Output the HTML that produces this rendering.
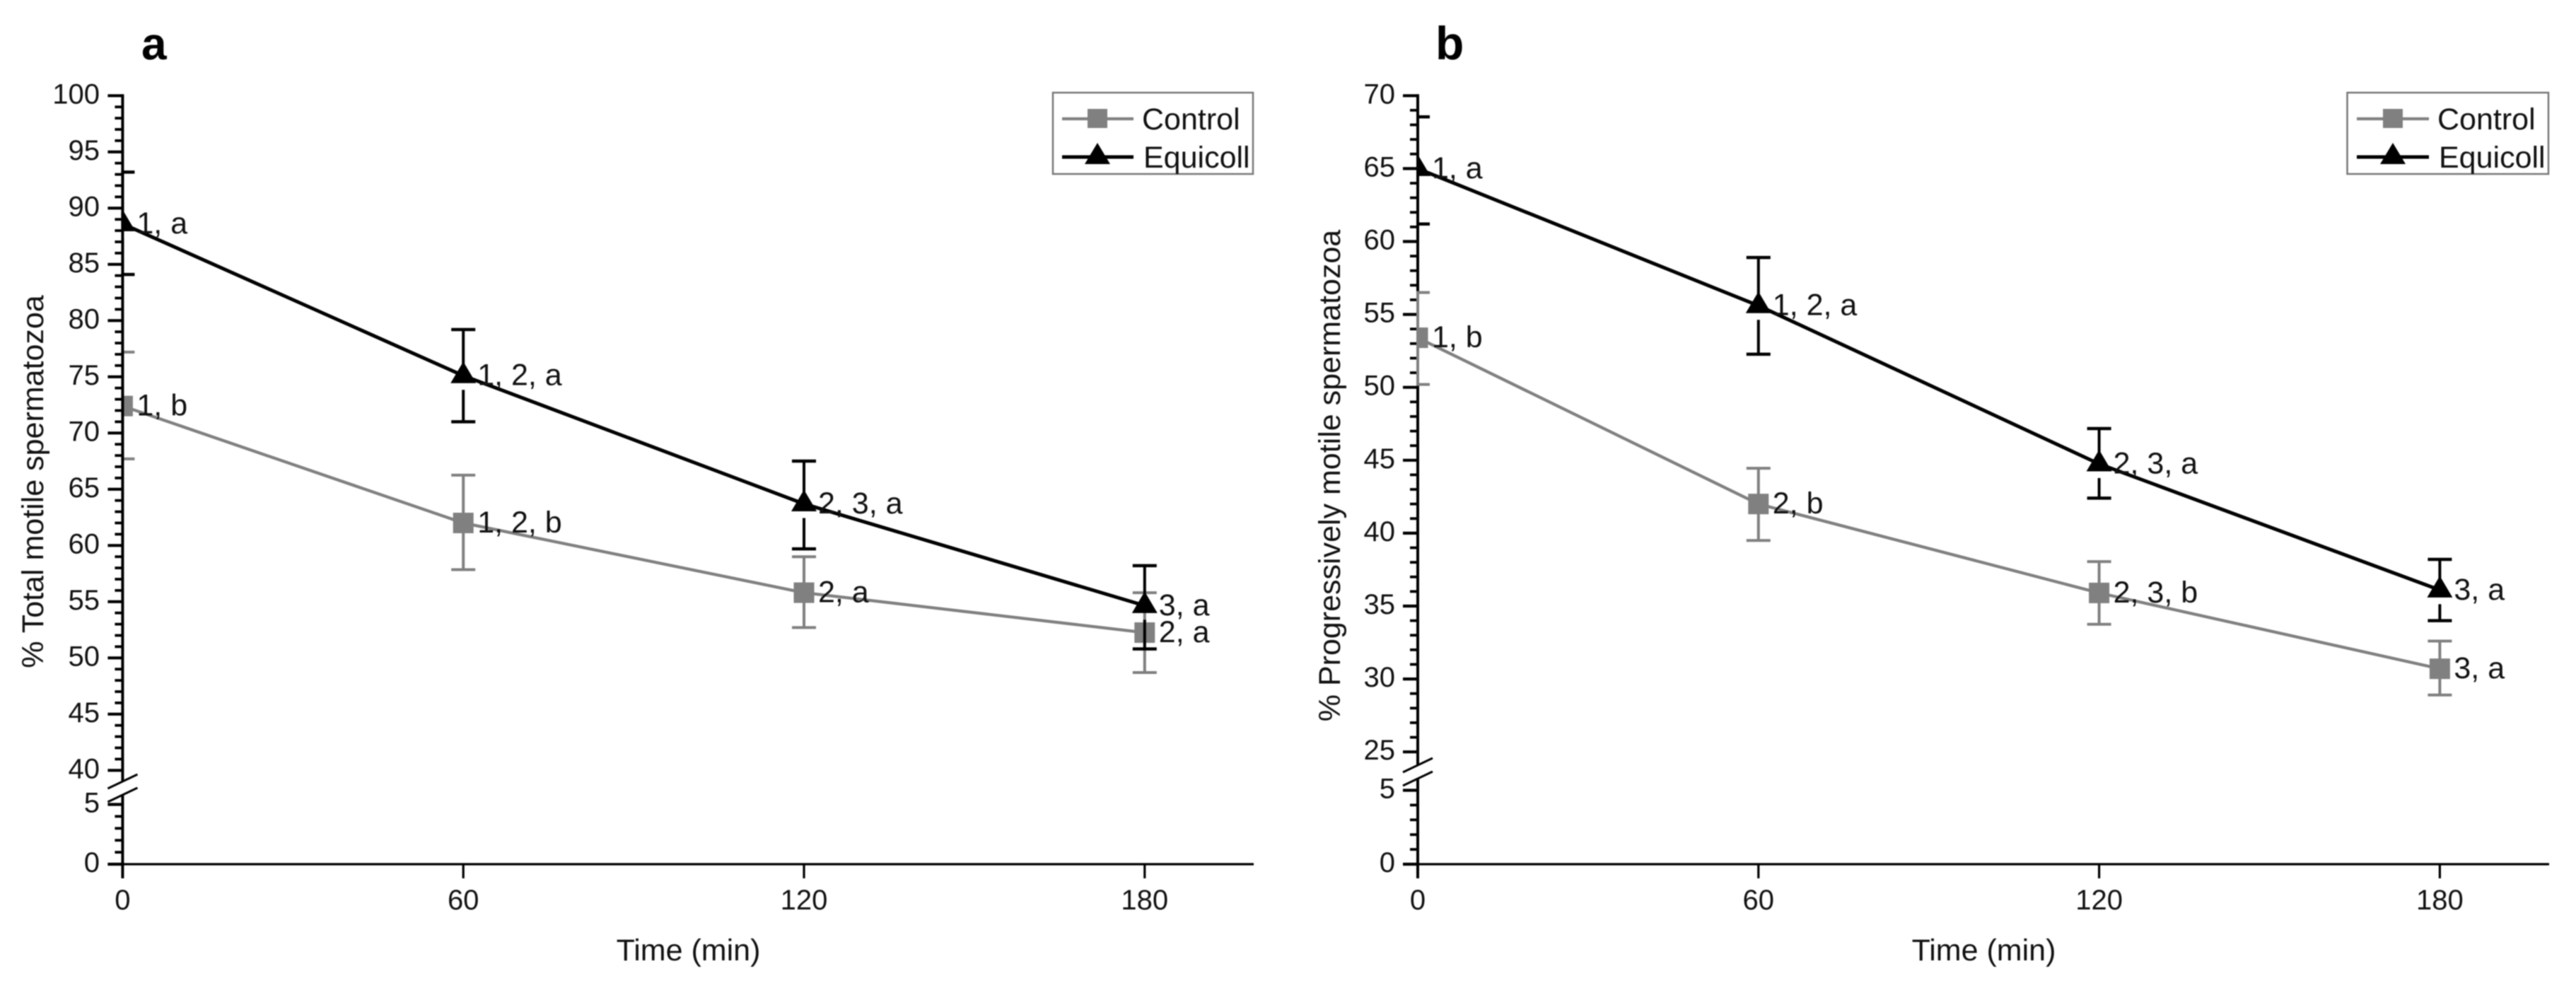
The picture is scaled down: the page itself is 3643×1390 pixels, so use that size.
<!DOCTYPE html>
<html lang="en">
<head>
<meta charset="utf-8">
<title>Sperm motility over time</title>
<style>
html,body{margin:0;padding:0;background:#fff;width:3643px;height:1390px;overflow:hidden}
svg{display:block;filter:blur(0.8px)}
text{font-family:"Liberation Sans",Arial,sans-serif;fill:#111}
</style>
</head>
<body>
<svg id="figure" xmlns="http://www.w3.org/2000/svg" width="3643" height="1390" viewBox="0 0 3643 1390">
<rect width="3643" height="1390" fill="#ffffff"/>
<defs>
<clipPath id="clip-a"><rect x="171.4" y="0" width="1700" height="1390"/></clipPath>
<clipPath id="clip-b"><rect x="2003" y="0" width="1700" height="1390"/></clipPath>
</defs>
</svg>
<script>
// Shared data
const timePoints = [0, 60, 120, 180];
const xTickLabels = ["0", "60", "120", "180"];
const seriesNames = ["Control", "Equicoll"];

// Panel a: % total motile spermatozoa
const aUpperTicks = [40, 45, 50, 55, 60, 65, 70, 75, 80, 85, 90, 95, 100];
const aLowerTicks = [0, 5];
const aControlMean = [72.4, 62.0, 55.8, 52.25];
const aControlUpper = [77.2, 66.25, 59.0, 55.8];
const aControlLower = [67.7, 57.85, 52.7, 48.7];
const aControlLabels = ["1, b", "1, 2, b", "2, a", "2, a"];
const aEquicollMean = [88.6, 75.1, 63.7, 54.65];
const aEquicollUpper = [93.2, 79.2, 67.5, 58.2];
const aEquicollLower = [84.1, 71.0, 59.7, 50.8];
const aEquicollLabels = ["1, a", "1, 2, a", "2, 3, a", "3, a"];

// Panel b: % progressively motile spermatozoa
const bUpperTicks = [25, 30, 35, 40, 45, 50, 55, 60, 65, 70];
const bLowerTicks = [0, 5];
const bControlMean = [53.4, 42.0, 35.9, 30.7];
const bControlUpper = [56.5, 44.45, 38.05, 32.6];
const bControlLower = [50.2, 39.5, 33.75, 28.9];
const bControlLabels = ["1, b", "2, b", "2, 3, b", "3, a"];
const bEquicollMean = [65.0, 55.6, 44.75, 36.1];
const bEquicollUpper = [68.55, 58.9, 47.17, 38.2];
const bEquicollLower = [61.2, 52.27, 42.4, 34.0];
const bEquicollLabels = ["1, a", "1, 2, a", "2, 3, a", "3, a"];

const NS = "http://www.w3.org/2000/svg";
const figure = document.getElementById("figure");
const GRAY = "#808080";
const BLACK = "#000000";

function make(parent, tag, attrs, content) {
  const node = document.createElementNS(NS, tag);
  for (const key in attrs) node.setAttribute(key, attrs[key]);
  if (content !== undefined) node.textContent = content;
  parent.appendChild(node);
  return node;
}

function drawLegend(g, box) {
  let el = make(g, "rect", {x: box.x0, y: 131, width: box.x1 - box.x0, height: 115, fill: "#fff", stroke: "#777", "stroke-width": 2.5});
  
  
  el = make(g, "line", {x1: box.sx0, x2: box.sx1, y1: 168, y2: 168, stroke: GRAY, "stroke-width": 4.3});
  
  
  el = make(g, "rect", {x: box.cx - 14, y: 154, width: 28, height: 27, fill: GRAY});
  
  
  el = make(g, "text", {x: box.tx, y: 183, "font-size": 43}, seriesNames[0]);
  
  
  el = make(g, "line", {x1: box.sx0, x2: box.sx1, y1: 222, y2: 222, stroke: BLACK, "stroke-width": 5});
  
  
  const tri = [[box.cx, 202], [box.cx + 18, 232], [box.cx - 18, 232]].map(function (p) { return p.join(","); }).join(" ");
  el = make(g, "polygon", {points: tri, fill: BLACK});
  
  
  el = make(g, "text", {x: box.tx + 2, y: 237, "font-size": 43}, seriesNames[1]);
  
  
}

function drawAxes(g, cfg, xScale, yScale) {
  const ax = cfg.axisX;
  const y0 = yScale(0);
  // y axis, upper and lower segment
  let el = make(g, "line", {x1: ax, x2: ax, y1: yScale(cfg.upperTicks[cfg.upperTicks.length - 1]) - 2, y2: cfg.breakTop, stroke: BLACK, "stroke-width": 4});
  
  
  el = make(g, "line", {x1: ax, x2: ax, y1: cfg.breakBottom, y2: 1242, stroke: BLACK, "stroke-width": 4});
  
  
  // x axis
  el = make(g, "line", {x1: ax - 21, x2: cfg.xEnd, y1: y0, y2: y0, stroke: BLACK, "stroke-width": 3.2});
  
  
  // break marks
  [0, 19].forEach(function (offset) {
    const mark = make(g, "line", {x1: ax - 21, x2: ax + 21, y1: cfg.breakTop + 11 + offset, y2: cfg.breakTop - 9 + offset, stroke: BLACK, "stroke-width": 3});
    
    
  });
  // y ticks for both axis ranges
  [cfg.upperTicks, cfg.lowerTicks].forEach(function (ticks) {
    ticks.forEach(function (value, i) {
      const y = yScale(value);
      const major = make(g, "line", {x1: ax - 21, x2: ax, y1: y, y2: y, stroke: BLACK, "stroke-width": 4.2});
      
      
      const label = make(g, "text", {x: cfg.tickLabelX, y: y + 11, "text-anchor": "end", "font-size": 40}, String(value));
      
      
      if (i < ticks.length - 1) {
        for (let m = value + 1; m < ticks[i + 1]; m++) {
          const yMinor = yScale(m);
          const minor = make(g, "line", {x1: ax - 11, x2: ax, y1: yMinor, y2: yMinor, stroke: BLACK, "stroke-width": 3.8});
          
          
        }
      }
    });
  });
  // x ticks
  timePoints.forEach(function (t, i) {
    const x = xScale(t);
    const tick = make(g, "line", {x1: x, x2: x, y1: y0, y2: 1242, stroke: BLACK, "stroke-width": 3.2});
    
    
    const label = make(g, "text", {x: x, y: 1286, "text-anchor": "middle", "font-size": 40}, xTickLabels[i]);
    
    
  });
}

function drawSeries(g, s, cfg, xScale, yScale) {
  const clip = make(g, "g", {"clip-path": "url(#" + cfg.clipId + ")"});
  
  
  const pts = timePoints.map(function (t, i) { return xScale(t) + "," + yScale(s.mean[i]); }).join(" ");
  const path = make(clip, "polyline", {points: pts, fill: "none", stroke: s.color, "stroke-width": s.width});
  
  
  timePoints.forEach(function (t, i) {
    const x = xScale(t);
    const y = yScale(s.mean[i]);
    const yUp = yScale(s.upper[i]);
    const yLow = yScale(s.lower[i]);
    const upperBar = make(clip, "line", {x1: x, x2: x, y1: yUp, y2: y, stroke: s.color, "stroke-width": 4});
    
    
    const lowerBar = make(clip, "line", {x1: x, x2: x, y1: y + (s.triangle ? 20 : 0), y2: yLow, stroke: s.color, "stroke-width": 4});
    
    
    [yUp, yLow].forEach(function (capY) {
      const cap = make(clip, "line", {x1: x - 17, x2: x + 17, y1: capY, y2: capY, stroke: s.color, "stroke-width": s.triangle ? 4.5 : 4});
      
      
    });
    let marker;
    if (s.triangle) {
      marker = make(clip, "polygon", {points: x + "," + (y - 20) + " " + (x + 18) + "," + (y + 10.5) + " " + (x - 18) + "," + (y + 10.5), fill: s.color});
    } else {
      marker = make(clip, "rect", {x: x - 14.5, y: y - 14.5, width: 29, height: 29, fill: s.color});
    }
    
    
  });
}

function drawLabels(g, s, xScale, yScale) {
  timePoints.forEach(function (t, i) {
    const label = make(g, "text", {x: xScale(t) + 20, y: yScale(s.mean[i]) + 13.5, "font-size": 43}, s.labels[i]);
    
    
  });
}

function drawPanel(cfg) {
  const g = make(figure, "g", {});
  
  
  function xScale(t) { return cfg.axisX + t * cfg.xUnit; }
  function yScale(v) {
    if (v >= cfg.upperTicks[0]) return cfg.topY + (cfg.upperTicks[cfg.upperTicks.length - 1] - v) * cfg.upperUnit;
    return 1222 - v * cfg.lowerUnit;
  }
  const letter = make(g, "text", {x: cfg.letterX, y: 84, "font-size": cfg.letterSize, "font-weight": "bold", style: "fill:#000"}, cfg.letter);
  
  
  const yTitle = make(g, "text", {x: cfg.yTitleX, y: cfg.yTitleY, "text-anchor": "middle", "font-size": 43, transform: "rotate(-90 " + cfg.yTitleX + " " + cfg.yTitleY + ")"}, cfg.yTitle);
  
  
  const xTitle = make(g, "text", {x: cfg.xTitleX, y: 1358, "text-anchor": "middle", "font-size": 43}, "Time (min)");
  
  

  if (cfg.axisOnTop) {
    drawSeries(g, cfg.control, cfg, xScale, yScale);
    drawAxes(g, cfg, xScale, yScale);
  } else {
    drawAxes(g, cfg, xScale, yScale);
    drawSeries(g, cfg.control, cfg, xScale, yScale);
  }
  drawSeries(g, cfg.equicoll, cfg, xScale, yScale);
  drawLabels(g, cfg.control, xScale, yScale);
  drawLabels(g, cfg.equicoll, xScale, yScale);
  drawLegend(g, cfg.legend);
}

drawPanel({
  name: "panel-a", letter: "a", letterX: 200, letterSize: 64, clipId: "clip-a", axisOnTop: true,
  axisX: 173.4, xUnit: 8.03, xEnd: 1773, topY: 135.3, upperUnit: 15.9, lowerUnit: 16.9,
  breakTop: 1104, breakBottom: 1123, tickLabelX: 141,
  upperTicks: aUpperTicks, lowerTicks: aLowerTicks,
  yTitle: "% Total motile spermatozoa", yTitleX: 61, yTitleY: 681, xTitleX: 973.5,
  control: {name: "control", color: GRAY, width: 4.3, triangle: false, mean: aControlMean, upper: aControlUpper, lower: aControlLower, labels: aControlLabels},
  equicoll: {name: "equicoll", color: BLACK, width: 5, triangle: true, mean: aEquicollMean, upper: aEquicollUpper, lower: aEquicollLower, labels: aEquicollLabels},
  legend: {x0: 1489, x1: 1772, sx0: 1502, sx1: 1603, cx: 1552, tx: 1615}
});

drawPanel({
  name: "panel-b", letter: "b", letterX: 2030, letterSize: 66, clipId: "clip-b", axisOnTop: false,
  axisX: 2005, xUnit: 8.03, xEnd: 3605, topY: 135.3, upperUnit: 20.62, lowerUnit: 20.9,
  breakTop: 1081, breakBottom: 1100, tickLabelX: 1973,
  upperTicks: bUpperTicks, lowerTicks: bLowerTicks,
  yTitle: "% Progressively motile spermatozoa", yTitleX: 1895, yTitleY: 672.5, xTitleX: 2805.5,
  control: {name: "control", color: GRAY, width: 4.3, triangle: false, mean: bControlMean, upper: bControlUpper, lower: bControlLower, labels: bControlLabels},
  equicoll: {name: "equicoll", color: BLACK, width: 5, triangle: true, mean: bEquicollMean, upper: bEquicollUpper, lower: bEquicollLower, labels: bEquicollLabels},
  legend: {x0: 3319.5, x1: 3604, sx0: 3333, sx1: 3435, cx: 3384, tx: 3447}
});
</script>
</body>
</html>
